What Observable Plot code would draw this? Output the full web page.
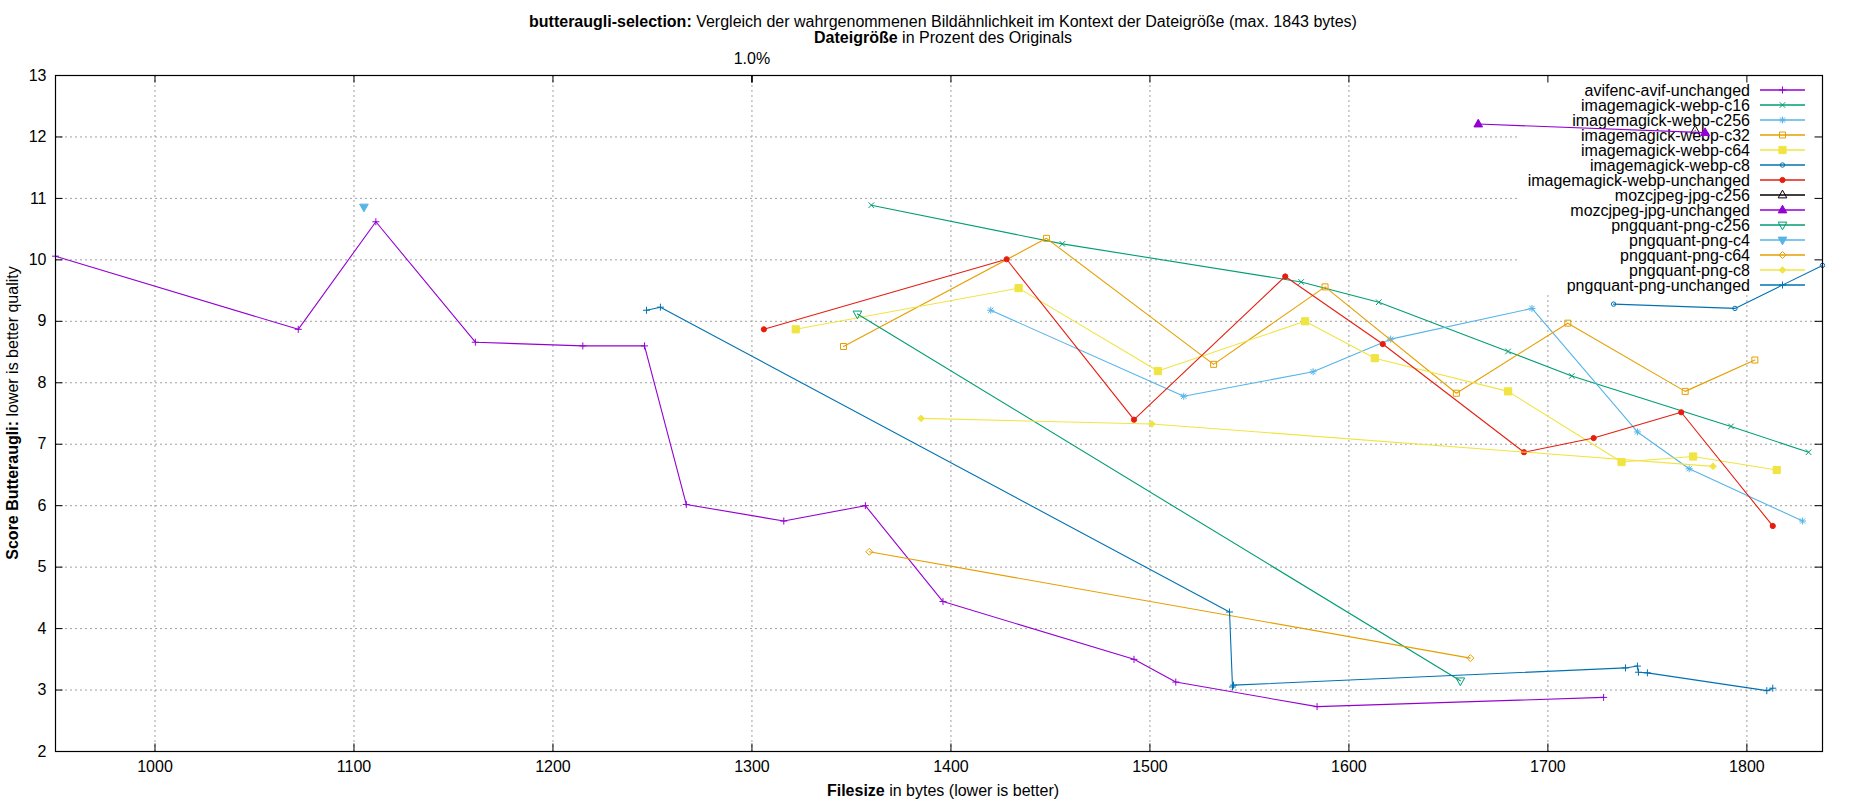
<!DOCTYPE html>
<html><head><meta charset="utf-8">
<script src="https://cdn.jsdelivr.net/npm/d3@7"></script>
<script src="https://cdn.jsdelivr.net/npm/@observablehq/plot@0.6"></script>
<style>
html,body{margin:0;padding:0;background:#fff;overflow:hidden;}
body{font-family:"Liberation Sans",Arial,sans-serif;color:#000;}
#title{height:45px;box-sizing:border-box;padding-top:14px;padding-left:36px;width:1850px;text-align:center;font-size:16px;line-height:16px;}
#chart svg{display:block}
</style></head><body>
<div id="title"><div><b>butteraugli-selection:</b> Vergleich der wahrgenommenen Bildähnlichkeit im Kontext der Dateigröße (max. 1843 bytes)</div><div><b>Dateigröße</b> in Prozent des Originals</div></div>
<div id="chart"></div>
<script>
// ---- data ----
const seriesNames = [
  "avifenc-avif-unchanged","imagemagick-webp-c16","imagemagick-webp-c256","imagemagick-webp-c32",
  "imagemagick-webp-c64","imagemagick-webp-c8","imagemagick-webp-unchanged","mozcjpeg-jpg-c256",
  "mozcjpeg-jpg-unchanged","pngquant-png-c256","pngquant-png-c4","pngquant-png-c64",
  "pngquant-png-c8","pngquant-png-unchanged"];

const avifBytes  = [950, 1072, 1111, 1161, 1215, 1246, 1267, 1316, 1357, 1396, 1492, 1513, 1584, 1728];
const avifScores = [10.06, 8.87, 10.62, 8.66, 8.60, 8.60, 6.02, 5.75, 6.00, 4.44, 3.50, 3.13, 2.73, 2.88];

const webpC16Bytes  = [1360, 1456, 1576, 1615, 1680, 1712, 1792, 1831];
const webpC16Scores = [10.89, 10.26, 9.64, 9.31, 8.51, 8.11, 7.29, 6.87];

const webpC256Bytes  = [1420, 1517, 1582, 1621, 1692, 1745, 1771, 1828];
const webpC256Scores = [9.18, 7.78, 8.18, 8.71, 9.21, 7.20, 6.60, 5.75];

const webpC32Bytes  = [1346, 1448, 1532, 1588, 1654, 1710, 1769, 1804];
const webpC32Scores = [8.59, 10.35, 8.30, 9.56, 7.83, 8.97, 7.86, 8.37];

const webpC64Bytes  = [1322, 1434, 1504, 1578, 1613, 1680, 1737, 1773, 1815];
const webpC64Scores = [8.87, 9.54, 8.19, 9.00, 8.40, 7.86, 6.71, 6.80, 6.58];

const webpC8Bytes  = [1733, 1794, 1838];
const webpC8Scores = [9.28, 9.21, 9.91];

const webpUnchBytes  = [1306, 1428, 1492, 1568, 1617, 1688, 1723, 1767, 1813];
const webpUnchScores = [8.87, 10.01, 7.40, 9.73, 8.63, 6.87, 7.10, 7.52, 5.67];

const jpgC256Bytes  = [1774];
const jpgC256Scores = [12.11];

const jpgUnchBytes  = [1665, 1779];
const jpgUnchScores = [12.21, 12.07];

const pngC256Bytes  = [1353, 1656];
const pngC256Scores = [9.12, 3.15];

const pngC4Bytes  = [1105];
const pngC4Scores = [10.86];

const pngC64Bytes  = [1359, 1661];
const pngC64Scores = [5.25, 3.52];

const pngC8Bytes  = [1385, 1501, 1783];
const pngC8Scores = [7.42, 7.33, 6.64];

const pngUnchBytes  = [1247, 1254, 1540, 1541.5, 1542, 1739, 1745, 1745.5, 1750, 1810, 1813];
const pngUnchScores = [9.18, 9.23, 4.27, 3.05, 3.08, 3.36, 3.39, 3.29, 3.28, 2.99, 3.03];

const seriesBytes  = [avifBytes, webpC16Bytes, webpC256Bytes, webpC32Bytes, webpC64Bytes, webpC8Bytes, webpUnchBytes,
                      jpgC256Bytes, jpgUnchBytes, pngC256Bytes, pngC4Bytes, pngC64Bytes, pngC8Bytes, pngUnchBytes];
const seriesScores = [avifScores, webpC16Scores, webpC256Scores, webpC32Scores, webpC64Scores, webpC8Scores, webpUnchScores,
                      jpgC256Scores, jpgUnchScores, pngC256Scores, pngC4Scores, pngC64Scores, pngC8Scores, pngUnchScores];

const xTicks = [1000, 1100, 1200, 1300, 1400, 1500, 1600, 1700, 1800];
const yTicks = [2, 3, 4, 5, 6, 7, 8, 9, 10, 11, 12, 13];
const x2TickPercents = [1.0];
const originalBytes = 130000;

// ---- styles ----
const seriesColors = ["#9400d3","#009e73","#56b4e9","#e69f00","#f0e442","#0072b2","#e51e10","#000000",
                      "#9400d3","#009e73","#56b4e9","#e69f00","#f0e442","#0072b2"];
const seriesSymbols = ["plus","times","asterisk","square","square","circle","circle","triangleUp",
                       "triangleUp","triangleDown","triangleDown","diamond","diamond","plus"];
const seriesFilled = [false,false,false,false,true,false,true,false,true,false,true,false,true,false];

function sym(fn){ return {draw(c, size){ const r = Math.sqrt(size/Math.PI); fn(c, r); }}; }
const symbols = {
  plus: sym((c,r)=>{c.moveTo(-r,0);c.lineTo(r,0);c.moveTo(0,-r);c.lineTo(0,r);}),
  times: sym((c,r)=>{const a=r*0.8;c.moveTo(-a,-a);c.lineTo(a,a);c.moveTo(-a,a);c.lineTo(a,-a);}),
  asterisk: sym((c,r)=>{const a=r*0.75;c.moveTo(-r,0);c.lineTo(r,0);c.moveTo(0,-r);c.lineTo(0,r);
                         c.moveTo(-a,-a);c.lineTo(a,a);c.moveTo(-a,a);c.lineTo(a,-a);}),
  square: sym((c,r)=>{c.moveTo(-r,-r);c.lineTo(r,-r);c.lineTo(r,r);c.lineTo(-r,r);c.closePath();}),
  circle: sym((c,r)=>{c.moveTo(r,0);c.arc(0,0,r,0,2*Math.PI);c.closePath();}),
  triangleUp: sym((c,r)=>{c.moveTo(0,-r);c.lineTo(r*0.9,r*0.6);c.lineTo(-r*0.9,r*0.6);c.closePath();}),
  triangleDown: sym((c,r)=>{c.moveTo(0,r);c.lineTo(r*0.9,-r*0.6);c.lineTo(-r*0.9,-r*0.6);c.closePath();}),
  diamond: sym((c,r)=>{c.moveTo(0,-r);c.lineTo(r,0);c.lineTo(0,r);c.lineTo(-r,0);c.closePath();})
};
const symbolR = {plus:3.5, times:3.5, asterisk:3.5, square:3, circle:2.2, triangleUp:4.8, triangleDown:4.8, diamond:3.5};
const symbolRFilled = {square:3.6, circle:2.6, triangleUp:4.8, triangleDown:4.8, diamond:3.3};

// ---- layout ----
const W = 1850, H = 755;
const mL = 55, mR = 28, mT = 30, mB = 49;
const frameW = W - mL - mR, frameH = H - mT - mB;
const font = '"Liberation Sans", Arial, sans-serif';

const seriesData = seriesNames.map((name, s) =>
  seriesBytes[s].map((b, i) => ({series: name, bytes: b, score: seriesScores[s][i]})));

const allBytes = seriesBytes.flat();

const marks = [
  Plot.gridX(xTicks, {stroke: "#a0a0a0", strokeOpacity: 1, strokeDasharray: "2,3", strokeWidth: 1}),
  Plot.gridY(yTicks.filter(t => t > yTicks[0] && t < yTicks[yTicks.length-1]),
             {stroke: "#a0a0a0", strokeOpacity: 1, strokeDasharray: "2,3", strokeWidth: 1})
];
seriesData.forEach((data, s) => {
  marks.push(Plot.line(data, {x: "bytes", y: "score", stroke: seriesColors[s], strokeWidth: 1.1}));
  const type = seriesSymbols[s];
  const filled = seriesFilled[s];
  marks.push(Plot.dot(data, {
    x: "bytes", y: "score", symbol: symbols[type],
    r: filled ? (symbolRFilled[type] || symbolR[type]) : symbolR[type],
    stroke: seriesColors[s], fill: filled ? seriesColors[s] : "none", strokeWidth: 1
  }));
});
marks.push(
  Plot.frame({stroke: "black", strokeWidth: 1.2}),
  Plot.tickX(xTicks, {x: d => d, insetTop: frameH - 7.5, stroke: "black"}),
  Plot.tickX(xTicks, {x: d => d, insetBottom: frameH - 7.5, stroke: "black"}),
  Plot.tickX(x2TickPercents.map(p => p / 100 * originalBytes), {x: d => d, insetBottom: frameH - 7.5, stroke: "black", strokeWidth: 1.5}),
  Plot.tickY(yTicks, {y: d => d, insetRight: frameW - 7.5, stroke: "black"}),
  Plot.tickY(yTicks, {y: d => d, insetLeft: frameW - 7.5, stroke: "black"}),
  Plot.axisX({ticks: xTicks, tickFormat: d => String(d), tickSize: 0, tickPadding: 9, label: null}),
  Plot.axisX({anchor: "top", ticks: x2TickPercents.map(p => p / 100 * originalBytes),
              tickFormat: d => (d / originalBytes * 100).toFixed(1) + "%", tickSize: 0, tickPadding: 12, label: null}),
  Plot.axisY({ticks: yTicks, tickFormat: d => String(d), tickSize: 0, tickPadding: 9, label: null})
);

const plot = Plot.plot({
  width: W, height: H,
  marginLeft: mL, marginRight: mR, marginTop: mT, marginBottom: mB,
  x: {domain: d3.extent(allBytes)},
  y: {domain: [yTicks[0], yTicks[yTicks.length-1]]},
  style: {fontFamily: font, fontSize: "16px", color: "black", background: "white", overflow: "visible"},
  marks
});
document.getElementById("chart").appendChild(plot);

// ---- legend (drawn under the data, over the grid) ----
const svg = d3.select(plot);
const frameRight = W - mR;
const legend = svg.insert("g", 'g[aria-label="line"]').attr("font-family", font).attr("font-size", 16);
legend.append("rect").attr("x", frameRight - 305).attr("y", mT + 0.5).attr("width", 305).attr("height", 218).attr("fill", "white");
seriesNames.forEach((name, s) => {
  const y = mT + 15 + 15 * s;
  const textX = frameRight - 72, lx1 = frameRight - 62, lx2 = frameRight - 17, lxc = (lx1 + lx2) / 2;
  legend.append("text").attr("x", textX).attr("y", y).attr("text-anchor", "end")
    .attr("dominant-baseline", "central").attr("fill", "black").text(name);
  legend.append("line").attr("x1", lx1).attr("x2", lx2).attr("y1", y).attr("y2", y)
    .attr("stroke", seriesColors[s]).attr("stroke-width", 1.3);
  const type = seriesSymbols[s], filled = seriesFilled[s];
  const r = filled ? (symbolRFilled[type] || symbolR[type]) : symbolR[type];
  const p = d3.path();
  symbols[type].draw(p, r * r * Math.PI);
  legend.append("path").attr("d", p.toString()).attr("transform", `translate(${lxc},${y})`)
    .attr("stroke", seriesColors[s]).attr("fill", filled ? seriesColors[s] : "none").attr("stroke-width", 1);
});

// ---- axis titles ----
const yl = svg.append("text").attr("transform", `translate(12,${mT + frameH / 2}) rotate(-90)`)
  .attr("text-anchor", "middle").attr("dominant-baseline", "central").attr("font-size", 16).attr("fill", "black");
yl.append("tspan").attr("font-weight", "bold").text("Score Butteraugli:");
yl.append("tspan").text(" lower is better quality");
const xl = svg.append("text").attr("x", 943).attr("y", H - 10)
  .attr("text-anchor", "middle").attr("dominant-baseline", "central").attr("font-size", 16).attr("fill", "black");
xl.append("tspan").attr("font-weight", "bold").text("Filesize");
xl.append("tspan").text(" in bytes (lower is better)");
</script>
</body></html>
